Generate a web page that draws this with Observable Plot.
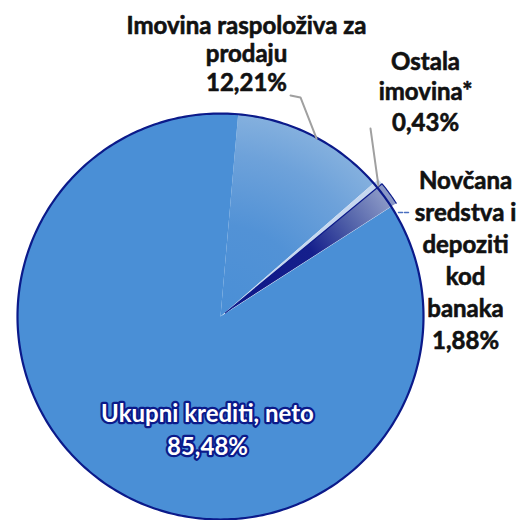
<!DOCTYPE html>
<html>
<head>
<meta charset="utf-8">
<script src="https://cdn.jsdelivr.net/npm/d3@7"></script>
<script src="https://cdn.jsdelivr.net/npm/@observablehq/plot@0.6"></script>
<style>
  html, body { margin: 0; padding: 0; background: #fff; }
  #chart svg { display: block; overflow: visible; }
</style>
</head>
<body>
<div id="chart"></div>
<script>
// ---- data ----
const categories = [
  "Imovina raspoloživa za\nprodaju",
  "Ostala\nimovina*",
  "Novčana\nsredstva i\ndepoziti\nkod\nbanaka",
  "Ukupni krediti, neto"
];
const shares = [12.21, 0.43, 1.88, 85.48];
const valueLabels = ["12,21%", "0,43%", "1,88%", "85,48%"];

// ---- styling / layout (not data) ----
const sliceColors = ["url(#gradAfs)", "#c6d8ef", "url(#gradCash)", "#4a8fd6"];
const explode = [0, 0.03, 0.03, 0];           // radial offset, in pie radii
const rotationDeg = 5;                         // start angle, clockwise from top
const labelX = [0.128, 1.010, 1.207, -0.064];  // label block anchors (pie radii)
const labelY = [1.493, 1.325, 0.739, -0.404];
const labelLineHeight = [1.19, 1.29, 1.33, 1.375];
const leaders = [
  {id: 0, pts: [[0.345, 1.089], [0.394, 1.079], [0.473, 0.877]]},
  {id: 1, pts: [[0.739, 0.926], [0.778, 0.645]]},
  {id: 2, pts: [[0.877, 0.512], [0.926, 0.512]]}
];

// ---- geometry from data ----
const rot = rotationDeg * Math.PI / 180;
const arcs = d3.pie().sort(null).startAngle(rot).endAngle(rot + 2 * Math.PI)(shares);

const slicePts = [];
arcs.forEach((a, i) => {
  const mid = (a.startAngle + a.endAngle) / 2;
  const ox = explode[i] * Math.sin(mid), oy = explode[i] * Math.cos(mid);
  slicePts.push({cat: categories[i], x: ox, y: oy});
  const n = Math.max(4, Math.ceil((a.endAngle - a.startAngle) / 0.01));
  for (let k = 0; k <= n; ++k) {
    const t = a.startAngle + (a.endAngle - a.startAngle) * k / n;
    slicePts.push({cat: categories[i], x: ox + Math.sin(t), y: oy + Math.cos(t)});
  }
});

const outline = d3.range(0, 361).map(d => {
  const t = d * Math.PI / 180;
  return {x: Math.sin(t), y: Math.cos(t)};
});

const labels = categories.map((c, i) => ({
  text: c + "\n" + valueLabels[i], x: labelX[i], y: labelY[i], i
}));

const leaderPts = leaders.flatMap(l => l.pts.map(p => ({id: l.id, x: p[0], y: p[1]})));

const textOpts = (i, extra = {}) => Object.assign({
  x: "x", y: "y", text: "text",
  fontSize: 24, fontWeight: "bold",
  lineAnchor: "top", lineHeight: labelLineHeight[i],
  fill: "#111", stroke: "#111", strokeWidth: 0.6
}, extra);

const chart = Plot.plot({
  width: 522,
  height: 520,
  marginLeft: 17,
  marginRight: 99,
  marginTop: 113,
  marginBottom: 1,
  style: {fontFamily: "Lato, sans-serif", background: "#fff"},
  x: {axis: null, domain: [-1, 1]},
  y: {axis: null, domain: [-1, 1]},
  color: {domain: categories, range: sliceColors},
  marks: [
    Plot.line(slicePts, {x: "x", y: "y", z: "cat", fill: "cat", stroke: "none"}),
    Plot.line(outline, {x: "x", y: "y", stroke: "#0b1a8a", strokeWidth: 2.2}),
    Plot.line(slicePts.filter(d => d.cat === categories[2]), {x: "x", y: "y", fill: "none", stroke: "#0b1a8a", strokeWidth: 1.2}),
    Plot.line(leaderPts.filter(d => d.id !== 2), {x: "x", y: "y", z: "id", stroke: "#a0a0a0", strokeWidth: 2}),
    Plot.line(leaderPts.filter(d => d.id === 2), {x: "x", y: "y", stroke: "#4a6fc0", strokeWidth: 1.5, strokeDasharray: "4,2"}),
    Plot.text(labels.filter(d => d.i === 0), textOpts(0)),
    Plot.text(labels.filter(d => d.i === 1), textOpts(1)),
    Plot.text(labels.filter(d => d.i === 2), textOpts(2)),
    Plot.text(labels.filter(d => d.i === 3), textOpts(3, {fill: "#fff", stroke: "#0b1a8a", strokeWidth: 4.5, paintOrder: "stroke"}))
  ]
});

// radial gradients centred on the pie, sized by the plot's own scales
const sx = chart.scale("x"), sy = chart.scale("y");
const cx = sx.apply(0), cy = sy.apply(0), r = sx.apply(1) - sx.apply(0);
const ns = "http://www.w3.org/2000/svg";
const defs = document.createElementNS(ns, "defs");
function grad(id, stops) {
  const g = document.createElementNS(ns, "radialGradient");
  g.setAttribute("id", id);
  g.setAttribute("gradientUnits", "userSpaceOnUse");
  g.setAttribute("cx", cx); g.setAttribute("cy", cy); g.setAttribute("r", r);
  stops.forEach(([o, c]) => {
    const s = document.createElementNS(ns, "stop");
    s.setAttribute("offset", o); s.setAttribute("stop-color", c);
    g.appendChild(s);
  });
  defs.appendChild(g);
}
grad("gradAfs", [[0, "#4a8fd6"], [0.45, "#5292d6"], [0.8, "#6ea2da"], [1, "#84b0de"]]);
grad("gradCash", [[0, "#0c1688"], [0.55, "#151f8c"], [0.78, "#5060a8"], [1, "#8a98c6"]]);
chart.insertBefore(defs, chart.firstChild);

document.getElementById("chart").appendChild(chart);
</script>
</body>
</html>
